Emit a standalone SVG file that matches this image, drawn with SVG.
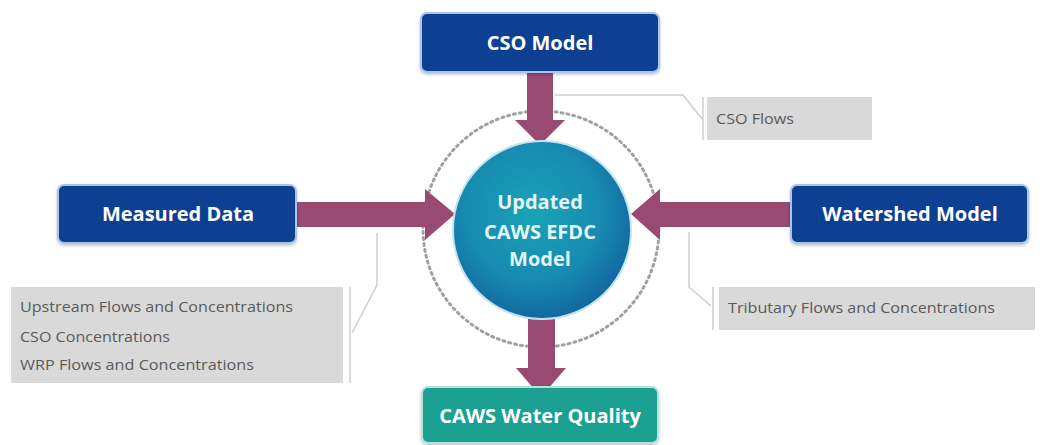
<svg xmlns="http://www.w3.org/2000/svg" width="1042" height="445" viewBox="0 0 1042 445">
<defs>
<radialGradient id="cg" cx="0.45" cy="0.4" r="0.65">
<stop offset="0" stop-color="#1aa3b8"/>
<stop offset="0.6" stop-color="#178ab0"/>
<stop offset="1" stop-color="#125f9c"/>
</radialGradient>
<filter id="sh" x="-10%" y="-10%" width="120%" height="130%">
<feDropShadow dx="0" dy="1.5" stdDeviation="1.5" flood-color="#000" flood-opacity="0.25"/>
</filter>
</defs>
<style>
.box{fill:#0b3f93;stroke:#a9c6e8;stroke-width:2;filter:url(#sh)}
.tbox{fill:#1fa092;stroke:#b6e2dc;stroke-width:2;filter:url(#sh)}
.bt{font-family:"Open Sans","Liberation Sans",sans-serif;font-weight:700;font-size:20px;fill:#ffffff;text-anchor:middle}
.ct{font-family:"Open Sans","Liberation Sans",sans-serif;font-weight:700;font-size:20px;fill:#e3f5f8;text-anchor:middle}
.arr{fill:#984a70}
.cb{fill:#d9d9d9}
.cl{fill:none;stroke:#cfcfcf;stroke-width:1.5}
.lt{font-family:"Open Sans","Liberation Sans",sans-serif;font-size:14.5px;fill:#5a5a5a}
</style>
<rect width="1042" height="445" fill="#ffffff"/>
<g id="ring">
<circle cx="541" cy="229" r="118" fill="none" stroke="#a0a0a0" stroke-width="3" stroke-dasharray="2 4" stroke-linecap="round"/>
</g>
<g id="callouts">
<g id="cso-flows">
<polyline class="cl" points="555,95 683,95 703,120"/>
<line class="cl" x1="703" y1="97" x2="703" y2="140"/>
<rect class="cb" x="707" y="97" width="165" height="43"/>
<text class="lt" x="716" y="124" textLength="78" lengthAdjust="spacingAndGlyphs">CSO Flows</text>
</g>
<g id="measured-notes">
<polyline class="cl" points="377,233 377,285 352,333"/>
<line class="cl" x1="350" y1="287" x2="350" y2="383"/>
<rect class="cb" x="11" y="287" width="332" height="96"/>
<text class="lt" x="20" y="312" textLength="273" lengthAdjust="spacingAndGlyphs">Upstream Flows and Concentrations</text>
<text class="lt" x="20" y="342" textLength="150" lengthAdjust="spacingAndGlyphs">CSO Concentrations</text>
<text class="lt" x="20" y="370" textLength="234" lengthAdjust="spacingAndGlyphs">WRP Flows and Concentrations</text>
</g>
<g id="tributary-notes">
<polyline class="cl" points="689,232 689,287 711,306"/>
<line class="cl" x1="713" y1="287" x2="713" y2="330"/>
<rect class="cb" x="719" y="287" width="316" height="43"/>
<text class="lt" x="728" y="313" textLength="267" lengthAdjust="spacingAndGlyphs">Tributary Flows and Concentrations</text>
</g>
</g>
<g id="connectors">
<polygon class="arr" points="527,72 553,72 553,120 565,120 540,145 515,120 527,120"/>
<polygon class="arr" points="296,202 425,202 425,189 455,214 425,240 425,227 296,227"/>
<polygon class="arr" points="791,202 660,202 660,189 631,214 660,240 660,227 791,227"/>
<polygon class="arr" points="528,318 555,318 555,368 566,368 541,397 516,368 528,368"/>
</g>
<g id="cso-model">
<rect class="box" x="421" y="13" width="238" height="59" rx="6"/>
<text class="bt" x="540" y="50">CSO Model</text>
</g>
<g id="measured-data">
<rect class="box" x="58" y="185" width="238" height="58" rx="6"/>
<text class="bt" x="178" y="221">Measured Data</text>
</g>
<g id="watershed-model">
<rect class="box" x="791" y="185" width="237" height="58" rx="6"/>
<text class="bt" x="910" y="221">Watershed Model</text>
</g>
<g id="efdc-model">
<circle cx="542" cy="230" r="89" fill="url(#cg)" stroke="#bfe3ef" stroke-width="2"/>
<text class="ct" x="540" y="209">Updated</text>
<text class="ct" x="540" y="239">CAWS EFDC</text>
<text class="ct" x="540" y="266">Model</text>
</g>
<g id="water-quality">
<rect class="tbox" x="422" y="387" width="236" height="56" rx="6"/>
<text class="bt" x="540" y="423">CAWS Water Quality</text>
</g>
</svg>
